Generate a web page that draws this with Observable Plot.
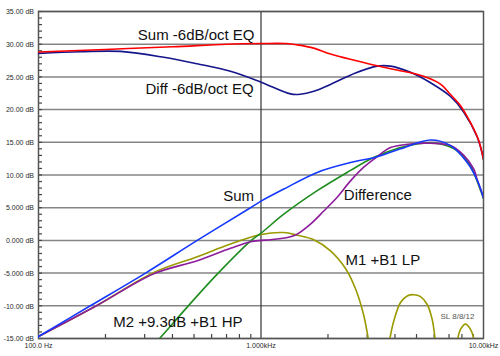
<!DOCTYPE html>
<html>
<head>
<meta charset="utf-8">
<script src="https://cdn.jsdelivr.net/npm/d3@7"></script>
<script src="https://cdn.jsdelivr.net/npm/@observablehq/plot@0.6"></script>
<style>
  html, body { margin: 0; padding: 0; background: #fff; }
  #chart svg { display: block; }
</style>
</head>
<body>
<div id="chart"></div>
<script>
// ---- Series data (frequency in Hz, level in dB) ----
const sumEqFreq = [100, 200, 400, 700, 1000, 1300, 1454, 1727, 2053, 2659, 3328, 4094, 5375, 6408, 7108, 7883, 8743, 9526, 10000];
const sumEqDb   = [28.8, 29.2, 29.6, 30.0, 30.1, 30.1, 29.9, 29.4, 28.5, 27.5, 26.7, 26.05, 25.1, 23.9, 22.3, 20.6, 18.0, 15.25, 12.4];

const diffEqFreq = [100, 154.5, 233.6, 365.7, 516.8, 729, 1000, 1357, 1500, 1727, 2053, 2659, 3328, 3820, 4698, 5778, 7108, 8157, 9369, 10000];
const diffEqDb   = [28.6, 28.85, 28.9, 28.0, 27.0, 25.85, 24.2, 22.4, 22.35, 22.8, 23.85, 25.6, 26.65, 26.65, 25.7, 24.1, 22.0, 19.6, 15.8, 12.4];

const sumFreq = [100, 171, 302.7, 516.8, 897, 1000, 1266, 1789, 2525, 3328, 4236, 5778, 7108, 8447, 9369, 10000];
const sumDb   = [-14.7, -10.0, -5.0, 0.0, 5.0, 6.0, 7.85, 10.4, 11.9, 12.8, 14.0, 15.35, 14.5, 11.9, 9.2, 6.5];

const diffFreq = [100, 182, 330, 517, 729, 897, 1000, 1103, 1404, 1669, 1915, 2200, 2525, 2897, 3328, 3820, 4698, 5778, 7108, 8157, 9047, 9369, 10000];
const diffDb   = [-14.7, -10.0, -5.1, -3.1, -1.2, -0.2, 0.0, 0.1, 0.7, 2.5, 4.5, 6.6, 9.1, 11.2, 12.8, 14.2, 14.75, 14.85, 14.5, 13.0, 10.9, 9.3, 6.6];

const m1LpFreq = [100, 182, 330, 517, 729, 1000, 1266, 1454, 1727, 2053, 2398, 2659, 2888, 3041, 3373, 3781, 3954, 4236, 4541, 4862, 5212, 5584, 5881, 6085, 6818, 7618, 7883, 8302, 8743, 9113, 9694];
const m1LpDb   = [-14.7, -10.0, -4.9, -2.5, -0.55, 0.9, 1.2, 0.8, 0.1, -1.6, -4.3, -7.4, -11.3, -15.2, -25, -15.3, -12.3, -9.5, -8.5, -8.3, -8.6, -9.8, -12.1, -15.4, -25, -15.4, -13.6, -12.8, -13.6, -15.4, -24];

const m2HpFreq = [302.7, 341.6, 465.9, 635.6, 897, 1000, 1266, 1789, 2525, 3105, 3564, 4236, 5391, 6408, 7618, 8743, 9369, 10000];
const m2HpDb   = [-17.3, -15.4, -10.2, -5.15, -0.1, 1.1, 4.0, 7.6, 10.7, 12.45, 13.3, 14.2, 14.85, 14.75, 13.7, 11.4, 9.0, 6.4];

const seriesNames  = ["M1 +B1 LP", "M2 +9.3dB +B1 HP", "Difference", "Sum", "Diff -6dB/oct EQ", "Sum -6dB/oct EQ"];
const seriesFreqs  = [m1LpFreq, m2HpFreq, diffFreq, sumFreq, diffEqFreq, sumEqFreq];
const seriesDbs    = [m1LpDb, m2HpDb, diffDb, sumDb, diffEqDb, sumEqDb];
const seriesColors = ["#9a9a00", "#1e8c1e", "#8c1c9c", "#1438ff", "#16168c", "#ff0000"];

// ---- Axis ticks ----
const yGrid       = [-15, -10, -5, 0, 5, 10, 15, 20, 25, 30, 35];
const yTickLabels = ["-15.00 dB", "-10.00 dB", "-5.000 dB", "0.000 dB", "5.000 dB", "10.00 dB", "15.00 dB", "20.00 dB", "25.00 dB", "30.00 dB", "35.00 dB"];
const yMinor      = d3.range(-15, 36, 1);
const xTicks      = [100, 1000, 10000];
const xTickLabels = ["100.0 Hz", "1.000kHz", "10.00kHz"];
const xMinor      = [200, 300, 400, 500, 600, 700, 800, 900, 2000, 3000, 4000, 5000, 6000, 7000, 8000, 9000];

// ---- Annotations (anchor at left end of text baseline) ----
const labelTexts = ["Sum -6dB/oct EQ", "Diff -6dB/oct EQ", "Sum", "Difference", "M1 +B1 LP", "M2 +9.3dB +B1 HP"];
const labelFreqs = [279.5, 302.7, 676, 2356, 2398, 216.7];
const labelDbs   = [30.71, 22.44, 6.06, 6.16, -3.74, -13.28];
const noteText = ["SL 8/8/12"];
const noteFreq = [6408];
const noteDb   = [-12.09];

const rows = seriesNames.flatMap((name, s) =>
  seriesFreqs[s].map((f, i) => ({series: name, f, db: seriesDbs[s][i]})));
const labels = labelTexts.map((t, i) => ({t, f: labelFreqs[i], db: labelDbs[i]}));
const notes = noteText.map((t, i) => ({t, f: noteFreq[i], db: noteDb[i]}));

const W = 500, H = 356, ML = 38, MR = 17, MT = 11, MB = 18, TICK = 4;

const chart = Plot.plot({
  width: W,
  height: H,
  marginLeft: ML,
  marginRight: MR,
  marginTop: MT,
  marginBottom: MB,
  x: {type: "log", domain: [100, 10000], label: null},
  y: {domain: [-15, 35], label: null},
  color: {domain: seriesNames, range: seriesColors},
  style: {fontFamily: "Arial, 'Liberation Sans', sans-serif", background: "#fff", color: "#333", overflow: "visible"},
  marks: [
    Plot.ruleY(yGrid, {stroke: "#858585", strokeWidth: 1.5}),
    Plot.ruleX([1000], {stroke: "#333", strokeWidth: 1.2}),
    // minor ticks pointing into the plot
    Plot.tickY(yMinor, {y: d => d, stroke: "#444", strokeWidth: 1.2, insetRight: (W - ML - MR) - TICK}),
    Plot.tickX(xMinor, {x: d => d, stroke: "#444", strokeWidth: 1.2, insetTop: (H - MT - MB) - TICK}),
    Plot.axisY(yGrid, {anchor: "left", tickSize: 0, tickPadding: 4.5, dy: 0.5,
      tickFormat: d => yTickLabels[yGrid.indexOf(d)], fontSize: 7, fill: "#2a2a2a", label: null}),
    Plot.axisX(xTicks, {anchor: "bottom", tickSize: 0, tickPadding: 5,
      tickFormat: d => xTickLabels[xTicks.indexOf(d)], fontSize: 7, fill: "#2a2a2a", label: null}),
    Plot.frame({stroke: "#555", strokeWidth: 1.5}),
    Plot.line(rows, {x: "f", y: "db", z: "series", stroke: "series", strokeWidth: 1.6, curve: "catmull-rom", clip: true}),
    Plot.text(labels, {x: "f", y: "db", text: "t", textAnchor: "start", lineAnchor: "bottom", fontSize: 15, fill: "#111"}),
    Plot.text(notes, {x: "f", y: "db", text: "t", textAnchor: "start", lineAnchor: "bottom", fontSize: 8, fill: "#555"})
  ]
});
document.getElementById("chart").appendChild(chart);
</script>
</body>
</html>
